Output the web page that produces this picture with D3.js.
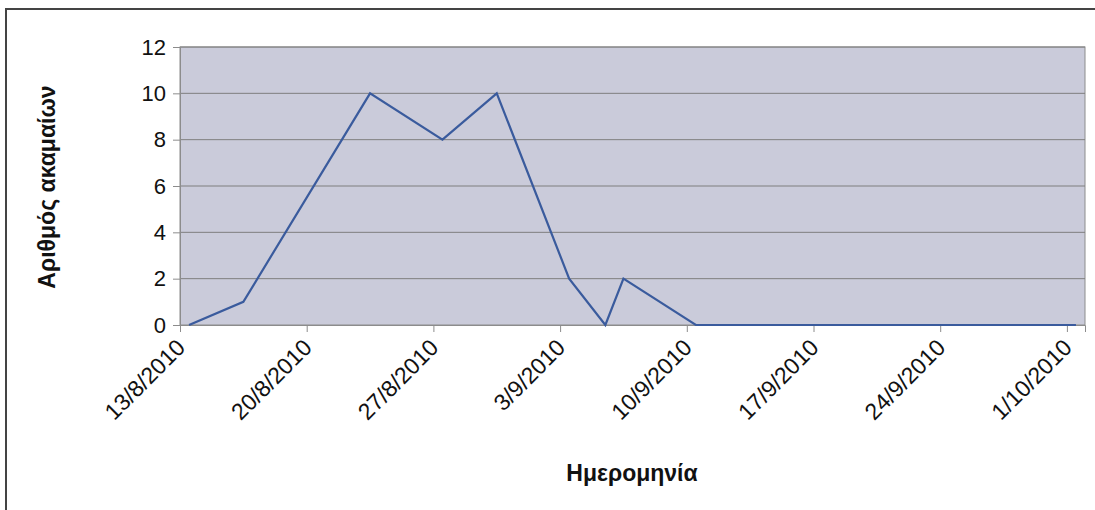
<!DOCTYPE html>
<html>
<head>
<meta charset="utf-8">
<script src="https://cdn.jsdelivr.net/npm/d3@7/dist/d3.min.js"></script>
<style>
  html, body { margin: 0; padding: 0; background: #fff; }
  svg { display: block; }
  text { font-family: "Liberation Sans", Arial, sans-serif; fill: #111; }
</style>
</head>
<body>
<svg id="chart" width="1095" height="510"></svg>
<script>
// Data (day-level observations)
const dates = ["2010-08-13","2010-08-16","2010-08-23","2010-08-27","2010-08-30","2010-09-03","2010-09-05","2010-09-06","2010-09-10","2010-10-01"];
const counts = [0, 1, 10, 8, 10, 2, 0, 2, 0, 0];
const xTickLabels = ["13/8/2010","20/8/2010","27/8/2010","3/9/2010","10/9/2010","17/9/2010","24/9/2010","1/10/2010"];
const yTicks = [0, 2, 4, 6, 8, 10, 12];
const xTitle = "Ημερομηνία";
const yTitle = "Αριθμός ακαμαίων";

(function () {
const svg = d3.select("#chart");
const W = 1095, H = 510;
const pL = 180, pR = 1085, pT = 47, pB = 325;

// outer border
svg.append("rect").attr("x", 6).attr("y", 9).attr("width", W + 20).attr("height", H + 20)
  .attr("fill", "#fff").attr("stroke", "#444").attr("stroke-width", 2);

const parse = d3.utcParse("%Y-%m-%d");
const tickDates = xTickLabels.map(s => { const [d, m, yr] = s.split("/").map(Number); return new Date(Date.UTC(yr, m - 1, d)); });
const x = d3.scaleUtc()
  .domain([tickDates[0], d3.utcDay.offset(tickDates[tickDates.length - 1], 1)])
  .range([pL, pR]);
const y = d3.scaleLinear().domain([0, 12]).range([pB, pT]);

// plot background
svg.append("rect").attr("x", pL).attr("y", pT).attr("width", pR - pL).attr("height", pB - pT)
  .attr("fill", "#cacbda").attr("stroke", "#8c8c8c").attr("stroke-width", 1);

// gridlines
svg.append("g").selectAll("line").data(yTicks.filter(v => v > 0)).join("line")
  .attr("x1", pL).attr("x2", pR)
  .attr("y1", d => y(d)).attr("y2", d => y(d))
  .attr("stroke", "#7f7f7f").attr("stroke-width", 1);

// y axis
const yAxis = svg.append("g").attr("transform", `translate(${pL},0)`)
  .call(d3.axisLeft(y).tickValues(yTicks).tickSize(7).tickPadding(7));
yAxis.select(".domain").attr("stroke", "#8c8c8c");
yAxis.selectAll(".tick line").attr("stroke", "#8c8c8c");
yAxis.selectAll(".tick text").attr("font-size", 22).attr("fill", "#111")
  .style("font-family", "'Liberation Sans', Arial, sans-serif");

// x axis
const xAxis = svg.append("g").attr("transform", `translate(0,${pB})`)
  .call(d3.axisBottom(x).tickValues(tickDates).tickSize(7).tickFormat((d, i) => xTickLabels[i]));
xAxis.select(".domain").attr("stroke", "#8c8c8c");
xAxis.selectAll(".tick line").attr("stroke", "#8c8c8c");
xAxis.selectAll(".tick text")
  .attr("font-size", 23).attr("fill", "#111")
  .style("font-family", "'Liberation Sans', Arial, sans-serif")
  .attr("text-anchor", "end")
  .attr("dy", null)
  .attr("transform", "translate(6,24) rotate(-45)")
  .attr("x", 0).attr("y", 0);

// line
const pts = dates.map((d, i) => ({ t: d3.utcHour.offset(parse(d), 12), v: counts[i] }));
svg.append("path").datum(pts)
  .attr("fill", "none").attr("stroke", "#3a5b9d").attr("stroke-width", 2.2)
  .attr("stroke-linejoin", "miter")
  .attr("d", d3.line().x(d => x(d.t)).y(d => y(d.v)));

// titles
svg.append("text").attr("x", 632).attr("y", 481).attr("text-anchor", "middle")
  .attr("font-size", 23).attr("font-weight", "bold").text(xTitle);
svg.append("text").attr("transform", "translate(55,187) rotate(-90)").attr("text-anchor", "middle")
  .attr("font-size", 23).attr("font-weight", "bold").text(yTitle);
})();
</script>
</body>
</html>
